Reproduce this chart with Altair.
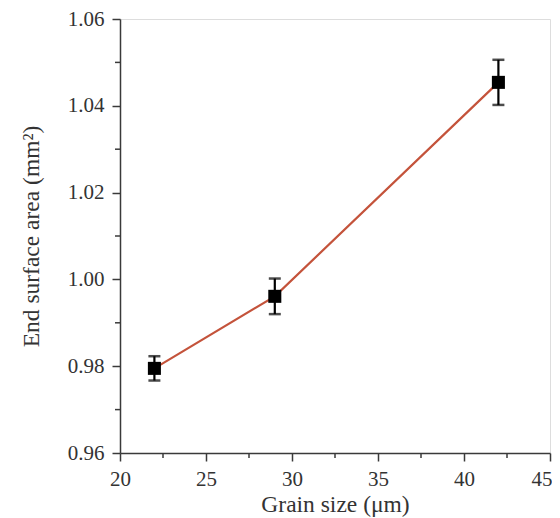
import altair as alt
import pandas as pd

grain = [22, 29, 42]
area = [0.9795, 0.9961, 1.0454]
err = [0.0028, 0.0041, 0.0052]

x_major = [20, 25, 30, 35, 40, 45]
x_minor = [22.5, 27.5, 32.5, 37.5, 42.5]
y_major = [0.96, 0.98, 1.00, 1.02, 1.04, 1.06]
y_minor = [0.97, 0.99, 1.01, 1.03, 1.05]

df = pd.DataFrame({"g": grain, "a": area, "e": err})
df["lo"] = df["a"] - df["e"]
df["hi"] = df["a"] + df["e"]

W, H = 430, 434
FONT = "Liberation Serif"
AX = "#3a3a3a"

xs = alt.Scale(domain=[20, 45], nice=False)
ys = alt.Scale(domain=[0.96, 1.06], nice=False, zero=False)

xenc = alt.X("g:Q", scale=xs, axis=alt.Axis(
    title="Grain size (μm)", values=x_major, format="d", grid=False,
    tickSize=8, tickWidth=1.5, tickColor=AX, domainColor=AX, domainWidth=1.5,
    labelFont=FONT, labelFontSize=21, labelColor="#333", labelPadding=7,
    labelAlign={"condition": {"test": "datum.value == 45", "value": "right"}, "value": "center"},
    labelOffset={"condition": {"test": "datum.value == 45", "value": 2}, "value": 0},
    titleFont=FONT, titleFontSize=23.5, titleFontWeight="normal", titleColor="#333",
    titlePadding=3, labelFlush=False))
yenc = alt.Y("a:Q", scale=ys, axis=alt.Axis(
    title="End surface area (mm²)", values=y_major, format=".2f", grid=False,
    tickSize=8, tickWidth=1.5, tickColor=AX, domainColor=AX, domainWidth=1.5,
    labelFont=FONT, labelFontSize=21, labelColor="#333", labelPadding=8,
    titleFont=FONT, titleFontSize=23.5, titleFontWeight="normal", titleColor="#333",
    titlePadding=24, labelFlush=False))

base = alt.Chart(df)
line = base.mark_line(color="#c4533b", strokeWidth=2.2).encode(x=xenc, y=yenc)
bars = base.mark_rule(color="black", strokeWidth=2.2).encode(
    x="g:Q", y=alt.Y("lo:Q"), y2="hi:Q")
cap_lo = base.mark_tick(color="black", thickness=2.5, size=12, orient="horizontal").encode(
    x="g:Q", y="lo:Q")
cap_hi = base.mark_tick(color="black", thickness=2.5, size=12, orient="horizontal").encode(
    x="g:Q", y="hi:Q")
pts = base.mark_square(color="black", size=170, opacity=1).encode(x="g:Q", y="a:Q")

xm = alt.Chart(pd.DataFrame({"v": x_minor})).mark_rule(color=AX, strokeWidth=1.5).encode(
    x=alt.X("v:Q"), y=alt.value(H), y2=alt.value(H + 5))
ym = alt.Chart(pd.DataFrame({"v": y_minor})).mark_rule(color=AX, strokeWidth=1.5).encode(
    y=alt.Y("v:Q"), x=alt.value(0), x2=alt.value(-5))

chart = alt.layer(line, bars, cap_lo, cap_hi, pts, xm, ym).properties(
    width=W, height=H,
    autosize=alt.AutoSizeParams(type="none"),
    padding={"left": 112, "top": 11, "right": 2, "bottom": 64},
).configure_view(stroke=AX, strokeWidth=1.5).configure(background="white")

chart.save("out.html", embed_options={"renderer": "svg", "actions": False})
